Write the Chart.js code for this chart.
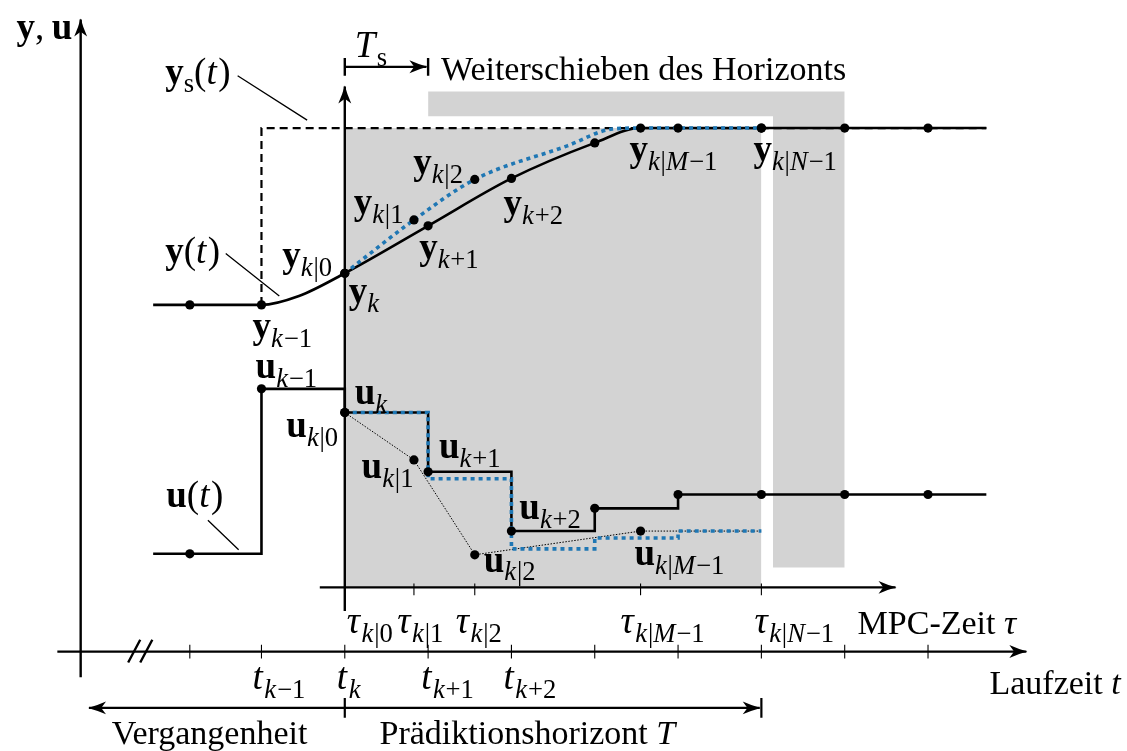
<!DOCTYPE html>
<html>
<head>
<meta charset="utf-8">
<script src="https://cdn.jsdelivr.net/npm/chart.js@4.4.1/dist/chart.umd.min.js"></script>
<style>
  html, body { margin: 0; padding: 0; background: #fff; }
  canvas { display: block; }
</style>
</head>
<body>
<canvas id="mpc" width="1127" height="751"></canvas>
<script>
// ---------- Data (x in sampling steps with t_k = 0, y in plot units) ----------

const tGrid = [-1.86, -1, 0, 1, 2, 3, 4, 5, 6, 7];
const tauGrid = [0, 0.83, 1.56, 3.55, 5];

// measured output y(t)
const yCurveX = [-2.3, -1, -0.55, 0, 1, 2, 3, 3.55, 7.7];
const yCurveV = [3.51, 3.51, 3.60, 3.83, 4.31, 4.79, 5.15, 5.30, 5.30];
const yDotsV = [3.51, 3.51, 3.83, 4.31, 4.79, 5.15, 5.30, 5.30, 5.30, 5.30];

// predicted output y_{k|i}
const yPredX = [0, 0.83, 1.56, 2.67, 3.21, 3.55, 5];
const yPredV = [3.83, 4.37, 4.78, 5.12, 5.29, 5.30, 5.30];
const yPredDotsV = [3.83, 4.37, 4.78, 5.30, 5.30];

// setpoint y_s(t)
const ysX = [-1, -1, 7.7];
const ysV = [3.51, 5.30, 5.30];

// applied input u(t), held between samples
const uX = [-2.3, -1, 0, 1, 2, 3, 4, 7.7];
const uV = [0.99, 2.66, 2.42, 1.82, 1.22, 1.45, 1.59, 1.59];
const uDotsV = [0.99, 2.66, 2.42, 1.82, 1.22, 1.45, 1.59, 1.59, 1.59, 1.59];

// predicted input (held) and predicted input points u_{k|i}
const uPredX = [0, 1, 2, 3, 4, 5];
const uPredV = [2.42, 1.75, 1.04, 1.15, 1.22, 1.22];
const uTauV = [2.42, 1.94, 0.98, 1.22, 1.22];

// ---------- Geometry of axes and helpers ----------

const axisT = { from: -3.45, to: 8.18, y: 0 };
const axisTau = { from: -0.30, to: 6.61, y: 0.65 };
const axisY = { x: -3.17, from: -0.26, to: 6.40 };
const axisTauV = { x: 0, from: 0.41, to: 5.72 };

const rectShifted = { x0: 1, x1: 6, top: 5.67, bottom: 0.85 };
const rectGap = { x0: -0.1, x1: 5.14, top: 5.42, bottom: 0.64 };
const rectHorizon = { x0: 0, x1: 5, top: 5.30, bottom: 0.65 };

const leaders = [
    [[-1.286, 5.83], [-0.452, 5.38]],
    [[-1.429, 4.03], [-0.786, 3.60]],
    [[-1.643, 1.33], [-1.274, 1.03]]
];
const breakMarks = [
    [[-2.60, -0.11], [-2.455, 0.12]],
    [[-2.455, -0.11], [-2.31, 0.12]]
];
const tsArrow = { from: 0, to: 0.98, y: 5.92, bars: [0, 1] };
const spanArrow = { left: -3.07, mid: 0, right: 4.98, y: -0.57, bars: [0, 5] };

const BLACK = '#000';
const GREY = '#d3d3d3';
const BLUE = '#1f77b4';

function pts(xs, ys) {
    return xs.map((x, i) => ({ x, y: ys[i] }));
}

function segs(list) {
    const out = [];
    list.forEach(s => {
        out.push({ x: s[0][0], y: s[0][1] }, { x: s[1][0], y: s[1][1] }, { x: s[1][0], y: null });
    });
    return out;
}

function vTicks(xs, y0, y1) {
    return segs(xs.map(x => [[x, y0], [x, y1]]));
}

// ---------- Labels ----------
// kinds: b bold, r roman, i italic, s subscript math, sr subscript roman
// math labels use the larger size, plain text the smaller one

const labels = [
    { x: -3.940, y: 6.20, parts: [['b', 'y'], ['r', ',\u2009'], ['b', 'u']] },
    { x: -2.155, y: 5.75, parts: [['b', 'y'], ['sr', 's'], ['r', '('], ['i', 't'], ['r', ')']] },
    { x: 0.119, y: 6.02, parts: [['i', 'T'], ['sr', 's']] },
    { x: 1.155, y: 5.79, text: true, parts: [['r', 'Weiterschieben des Horizonts']] },
    { x: -2.155, y: 3.93, parts: [['b', 'y'], ['r', '('], ['i', 't'], ['r', ')']] },
    { x: -0.750, y: 3.89, parts: [['b', 'y'], ['s', 'k|0']] },
    { x: 0.048, y: 3.53, parts: [['b', 'y'], ['s', 'k']] },
    { x: -1.107, y: 3.17, parts: [['b', 'y'], ['s', 'k\u22121']] },
    { x: 0.107, y: 4.43, parts: [['b', 'y'], ['s', 'k|1']] },
    { x: 0.821, y: 4.83, parts: [['b', 'y'], ['s', 'k|2']] },
    { x: 0.893, y: 3.97, parts: [['b', 'y'], ['s', 'k+1']] },
    { x: 1.905, y: 4.42, parts: [['b', 'y'], ['s', 'k+2']] },
    { x: 3.417, y: 4.97, parts: [['b', 'y'], ['s', 'k|M\u22121']] },
    { x: 4.905, y: 4.97, parts: [['b', 'y'], ['s', 'k|N\u22121']] },
    { x: -1.071, y: 2.77, parts: [['b', 'u'], ['s', 'k\u22121']] },
    { x: 0.119, y: 2.51, parts: [['b', 'u'], ['s', 'k']] },
    { x: -0.702, y: 2.17, parts: [['b', 'u'], ['s', 'k|0']] },
    { x: 0.202, y: 1.76, parts: [['b', 'u'], ['s', 'k|1']] },
    { x: 1.131, y: 1.96, parts: [['b', 'u'], ['s', 'k+1']] },
    { x: 2.095, y: 1.34, parts: [['b', 'u'], ['s', 'k+2']] },
    { x: 1.667, y: 0.81, parts: [['b', 'u'], ['s', 'k|2']] },
    { x: 3.476, y: 0.88, parts: [['b', 'u'], ['s', 'k|M\u22121']] },
    { x: -2.143, y: 1.46, parts: [['b', 'u'], ['r', '('], ['i', 't'], ['r', ')']] },
    { x: 0.024, y: 0.19, parts: [['i', 'τ'], ['s', 'k|0']] },
    { x: 0.631, y: 0.19, parts: [['i', 'τ'], ['s', 'k|1']] },
    { x: 1.333, y: 0.19, parts: [['i', 'τ'], ['s', 'k|2']] },
    { x: 3.31, y: 0.19, parts: [['i', 'τ'], ['s', 'k|M\u22121']] },
    { x: 4.917, y: 0.19, parts: [['i', 'τ'], ['s', 'k|N\u22121']] },
    { x: 6.155, y: 0.18, text: true, parts: [['r', 'MPC-Zeit '], ['i', 'τ']] },
    { x: -1.107, y: -0.38, parts: [['i', 't'], ['s', 'k\u22121']] },
    { x: -0.095, y: -0.38, parts: [['i', 't'], ['s', 'k']] },
    { x: 0.917, y: -0.38, parts: [['i', 't'], ['s', 'k+1']] },
    { x: 1.905, y: -0.38, parts: [['i', 't'], ['s', 'k+2']] },
    { x: 7.738, y: -0.43, text: true, parts: [['r', 'Laufzeit '], ['i', 't']] },
    { x: -2.798, y: -0.94, text: true, parts: [['r', 'Vergangenheit']] },
    { x: 0.417, y: -0.94, text: true, parts: [['r', 'Prädiktionshorizont '], ['i', 'T']] }
];

const FONT = '"Liberation Serif", "Times New Roman", serif';
const MATH_SIZE = 37;
const TEXT_SIZE = 34;

function drawRich(ctx, x, y, parts, size) {
    let cx = x;
    for (const [kind, str] of parts) {
        const sub = kind === 's' || kind === 'sr';
        const fs = sub ? size * 0.72 : size;
        const dy = sub ? size * 0.24 : 0;
        if (kind === 'r' || kind === 'sr' || kind === 'b' || kind === 'i') {
            const style = kind === 'b' ? 'bold ' : kind === 'i' ? 'italic ' : '';
            ctx.font = `${style}${fs}px ${FONT}`;
            ctx.fillText(str, cx, y + dy);
            cx += ctx.measureText(str).width + (kind === 'i' ? fs * 0.04 : 0);
            continue;
        }
        for (const ch of str) {
            const italic = /[A-Za-zτ]/.test(ch);
            ctx.font = `${italic ? 'italic ' : ''}${fs}px ${FONT}`;
            ctx.fillText(ch, cx, y + dy);
            cx += ctx.measureText(ch).width + (italic ? fs * 0.03 : 0);
        }
    }
}

// ---------- Plugins ----------

function arrowHead(ctx, p0, p1, len, half) {
    const a = Math.atan2(p1.y - p0.y, p1.x - p0.x);
    ctx.save();
    ctx.translate(p1.x, p1.y);
    ctx.rotate(a);
    ctx.beginPath();
    ctx.moveTo(1, 0);
    ctx.quadraticCurveTo(-len * 0.45, -half * 0.35, -len, -half);
    ctx.lineTo(-len * 0.72, 0);
    ctx.lineTo(-len, half);
    ctx.quadraticCurveTo(-len * 0.45, half * 0.35, 1, 0);
    ctx.closePath();
    ctx.fillStyle = BLACK;
    ctx.fill();
    ctx.restore();
}

const arrowPlugin = {
    id: 'arrows',
    afterDatasetsDraw(chart) {
        const ctx = chart.ctx;
        chart.data.datasets.forEach((ds, i) => {
            if (!ds.arrow) return;
            const p = chart.getDatasetMeta(i).data;
            const size = ds.arrowSize || 17;
            arrowHead(ctx, p[p.length - 2], p[p.length - 1], size, size * 0.38);
        });
    }
};

const labelPlugin = {
    id: 'labels',
    afterDatasetsDraw(chart) {
        const ctx = chart.ctx;
        const sx = chart.scales.x, sy = chart.scales.y;
        ctx.save();
        ctx.fillStyle = BLACK;
        ctx.textBaseline = 'alphabetic';
        ctx.textAlign = 'left';
        labels.forEach(l => drawRich(ctx, sx.getPixelForValue(l.x), sy.getPixelForValue(l.y),
            l.parts, l.text ? TEXT_SIZE : MATH_SIZE));
        ctx.restore();
    }
};

// ---------- Datasets ----------

function rectSet(r, color) {
    return {
        data: [{ x: r.x0, y: r.top }, { x: r.x1, y: r.top }],
        fill: { value: r.bottom },
        backgroundColor: color,
        borderColor: 'rgba(0,0,0,0)',
        borderWidth: 0,
        pointRadius: 0
    };
}

function lineSet(data, extra) {
    return Object.assign({
        data,
        borderColor: BLACK,
        borderWidth: 2.4,
        pointRadius: 0,
        fill: false,
        spanGaps: false,
        tension: 0
    }, extra || {});
}

function dotSet(data, radius) {
    return {
        data,
        showLine: false,
        pointRadius: radius || 4.6,
        pointBackgroundColor: BLACK,
        pointBorderWidth: 0
    };
}

const layers = [
    rectSet(rectShifted, GREY),
    rectSet(rectGap, '#ffffff'),
    rectSet(rectHorizon, GREY),
    lineSet(pts(ysX, ysV), { borderWidth: 2.2, borderDash: [8, 5] }),
    lineSet(segs(leaders), { borderWidth: 1.3 }),
    lineSet(vTicks(tGrid, -0.07, 0.07), { borderWidth: 1.1 }),
    lineSet(vTicks(tauGrid.slice(1), 0.57, 0.69), { borderWidth: 1.1 }),
    lineSet(segs(breakMarks), { borderWidth: 2.4 }),
    lineSet(vTicks(tsArrow.bars, tsArrow.y - 0.09, tsArrow.y + 0.09), { borderWidth: 2.4 }),
    lineSet(vTicks(spanArrow.bars, spanArrow.y - 0.1, spanArrow.y + 0.1), { borderWidth: 2.2 }),
    lineSet([{ x: axisT.from, y: axisT.y }, { x: axisT.to, y: axisT.y }], { arrow: true }),
    lineSet([{ x: axisTau.from, y: axisTau.y }, { x: axisTau.to, y: axisTau.y }], { arrow: true }),
    lineSet([{ x: axisY.x, y: axisY.from }, { x: axisY.x, y: axisY.to }], { arrow: true }),
    lineSet([{ x: axisTauV.x, y: axisTauV.from }, { x: axisTauV.x, y: axisTauV.to }], { arrow: true }),
    lineSet([{ x: tsArrow.from, y: tsArrow.y }, { x: tsArrow.to, y: tsArrow.y }], { arrow: true, borderWidth: 2.2 }),
    lineSet([{ x: spanArrow.mid, y: spanArrow.y }, { x: spanArrow.left, y: spanArrow.y }], { arrow: true, borderWidth: 2.2 }),
    lineSet([{ x: spanArrow.mid, y: spanArrow.y }, { x: spanArrow.right, y: spanArrow.y }], { arrow: true, borderWidth: 2.2 }),
    lineSet(pts(yCurveX, yCurveV), { cubicInterpolationMode: 'monotone', borderWidth: 2.6 }),
    lineSet(pts(uX, uV), { stepped: 'before', borderWidth: 2.6 }),
    lineSet(pts(tauGrid, uTauV), { borderWidth: 1, borderDash: [1.5, 1.5] }),
    lineSet(pts(yPredX, yPredV), { cubicInterpolationMode: 'monotone', borderColor: BLUE, borderWidth: 3.6, borderDash: [4, 4] }),
    lineSet(pts(uPredX, uPredV), { stepped: 'before', borderColor: BLUE, borderWidth: 3.6, borderDash: [4, 4] }),
    dotSet(pts(tGrid, yDotsV)),
    dotSet(pts(tGrid, uDotsV)),
    dotSet(pts(tauGrid, yPredDotsV)),
    dotSet(pts(tauGrid.slice(0, 4), uTauV.slice(0, 4)))
];

// first entry is the bottom layer
layers.forEach((ds, i) => { ds.order = layers.length - i; });

new Chart(document.getElementById('mpc'), {
    type: 'line',
    data: { datasets: layers },
    options: {
        responsive: false,
        animation: false,
        layout: { padding: 0 },
        plugins: { legend: { display: false }, tooltip: { enabled: false } },
        scales: {
            x: { type: 'linear', min: -4.083, max: 9.333, display: false },
            y: { type: 'linear', min: -0.96, max: 6.55, display: false }
        }
    },
    plugins: [arrowPlugin, labelPlugin]
});
</script>
</body>
</html>
